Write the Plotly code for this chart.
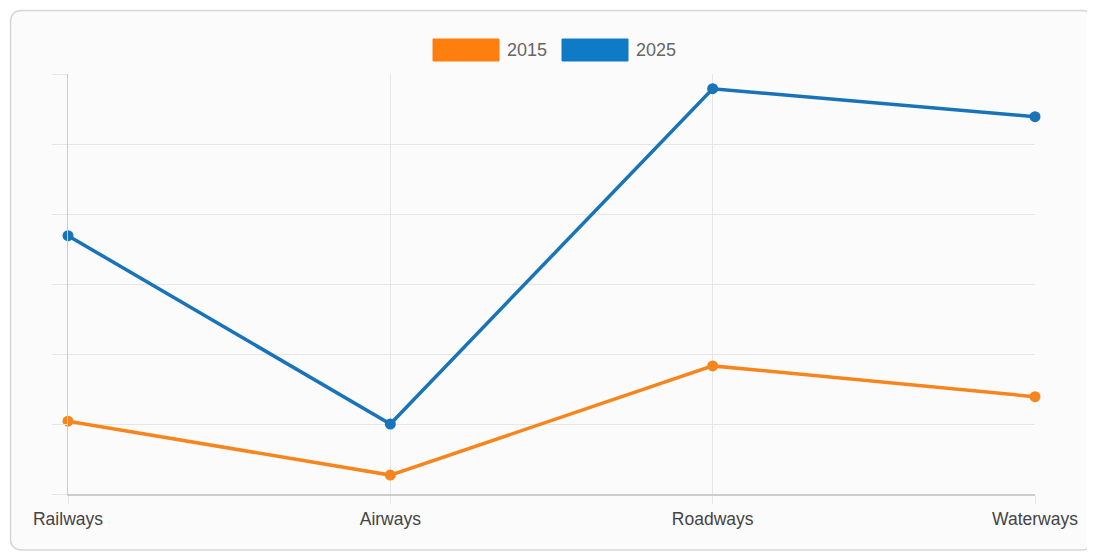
import plotly.graph_objects as go

categories = ["Railways", "Airways", "Roadways", "Waterways"]
series_names = ["2015", "2025"]
values_2015 = [10.4, 2.7, 18.3, 13.9]
values_2025 = [36.9, 10.0, 57.9, 53.9]
line_colors = ["#f7851d", "#1873b8"]
legend_colors = ["#ff7f0e", "#0f7bc6"]

OFF = 8  # page body margin
W, H = 1095 - OFF, 552 - OFF
L, R, T, B = 68 - OFF, 1035 - OFF, 74 - OFF, 494 - OFF
pw, ph = R - L, B - T

def px(x):
    return (x - OFF - L) / pw

def py(y):
    return (B - (y - OFF)) / ph

fig = go.Figure()
for name, vals, col in zip(series_names, [values_2015, values_2025], line_colors):
    fig.add_trace(go.Scatter(
        x=list(range(len(categories))), y=vals, name=name, mode="lines+markers",
        line=dict(color=col, width=3.5),
        marker=dict(color=col, size=11),
        cliponaxis=False,
        showlegend=False,
    ))

shapes = []
# card
x0, y0, x1, y1, r = px(10.5), py(10.5), px(1093.5), py(550), 12
rx, ry = r / pw, r / ph
path = (f"M {x0+rx},{y0} L {x1-rx},{y0} Q {x1},{y0} {x1},{y0-ry} "
        f"L {x1},{y1+ry} Q {x1},{y1} {x1-rx},{y1} L {x0+rx},{y1} "
        f"Q {x0},{y1} {x0},{y1+ry} L {x0},{y0-ry} Q {x0},{y0} {x0+rx},{y0} Z")
shapes.append(dict(type="path", path=path, xref="paper", yref="paper",
                   line=dict(color="#d6d6d6", width=1.5), fillcolor="#fbfbfb", layer="below"))
# legend boxes
annotations = []
lx = [433, 562]
for i, (name, col) in enumerate(zip(series_names, legend_colors)):
    shapes.append(dict(type="rect", xref="paper", yref="paper",
                       x0=px(lx[i]), x1=px(lx[i] + 66), y0=py(39), y1=py(61),
                       fillcolor=col, line=dict(color=col, width=1), layer="above"))
    annotations.append(dict(text=name, xref="paper", yref="paper",
                            x=px(lx[i] + 72), y=py(50), xanchor="left", yanchor="middle",
                            showarrow=False, font=dict(size=18, color="#666666")))

fig.update_layout(
    width=W, height=H,
    margin=dict(l=L, r=W - R, t=T, b=H - B),
    paper_bgcolor="#ffffff", plot_bgcolor="rgba(0,0,0,0)",
    font=dict(family="Liberation Sans, Arial, sans-serif", color="#444444", size=15),
    shapes=shapes, annotations=annotations,
    showlegend=False,
)
fig.update_xaxes(
    tickmode="array", tickvals=list(range(len(categories))), ticktext=categories,
    range=[0, 3], showgrid=True, gridcolor="#e6e6e6", gridwidth=1,
    ticks="outside", ticklen=8, tickcolor="#e6e6e6",
    showline=True, linecolor="#cccccc", linewidth=1.5, zeroline=False,
    tickfont=dict(size=17.5, color="#444444"),
)
fig.update_yaxes(
    range=[0, 60], dtick=10, showticklabels=False,
    showgrid=True, gridcolor="#e6e6e6", gridwidth=1,
    ticks="outside", ticklen=15, tickcolor="#e6e6e6",
    showline=True, linecolor="#cccccc", linewidth=1, zeroline=False,
)
fig.write_html("out.html")
